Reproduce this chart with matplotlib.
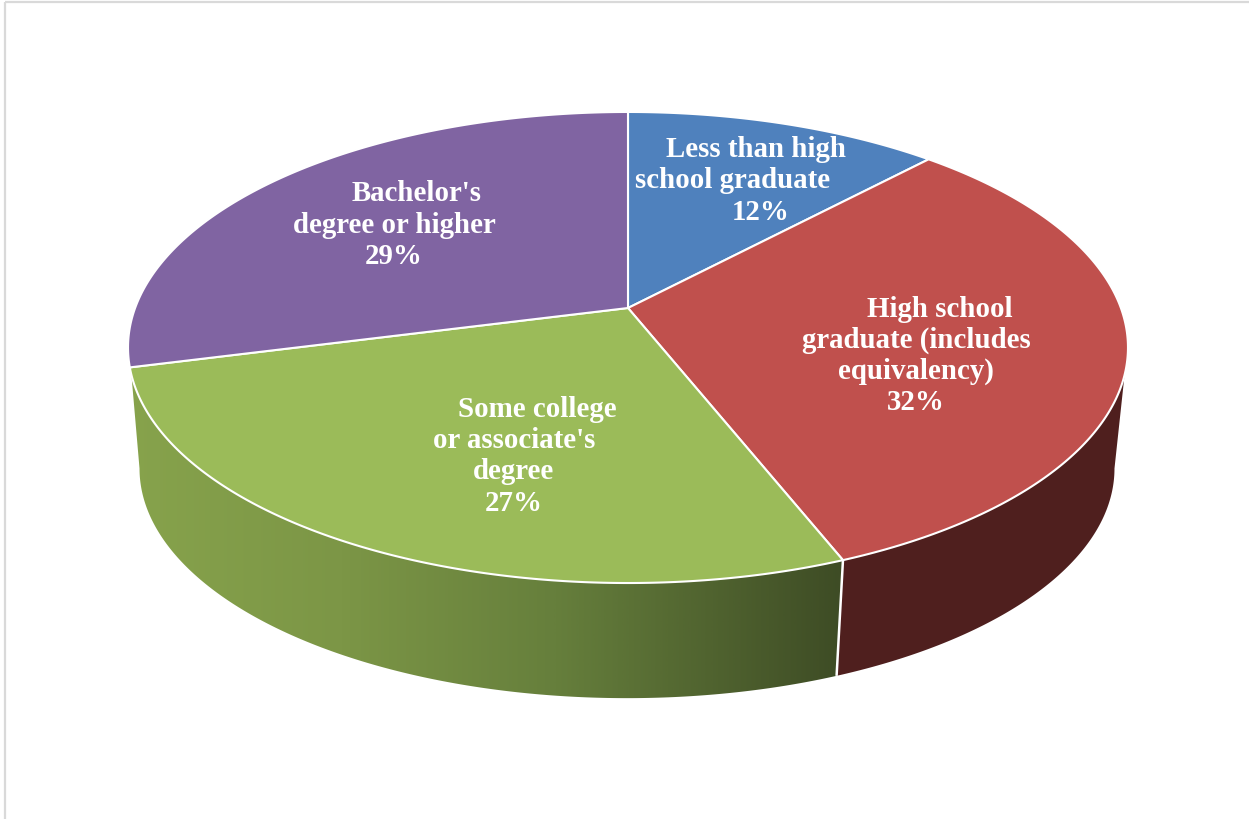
import matplotlib
matplotlib.use("Agg")
import matplotlib.pyplot as plt
import numpy as np
from matplotlib.colors import LinearSegmentedColormap
from matplotlib.patches import PathPatch, Polygon
from matplotlib.path import Path

categories = [
    "Less than high\nschool graduate",
    "High school\ngraduate (includes\nequivalency)",
    "Some college\nor associate's\ndegree",
    "Bachelor's\ndegree or higher",
]
values = [12, 32, 27, 29]
slice_colors = ["#4f81bd", "#c0504d", "#9bbb59", "#8064a2"]

# per-line label centre x and baseline y, one list per slice
label_x = [
    [756, 733, 761],
    [940, 916, 916, 916],
    [537, 514, 514, 514],
    [417, 394, 394],
]
label_y = [
    [157, 188, 220],
    [317, 348, 379, 410],
    [417, 448, 479, 511],
    [201, 233, 264],
]

# perspective disc, everything in pixels
CX, CY = 628, 308
A, B, K = 492.9, 228.9, 0.1677
DROP, SHRINK = 122, 0.975


def project(theta_deg, bottom=False):
    t = np.radians(theta_deg)
    u, v = np.sin(t), np.cos(t)
    w = 1 + K * v
    x, y = A * u / w, -B * v / w
    if bottom:
        return CX - 1 + x * SHRINK, CY + DROP + y * SHRINK
    return CX + x, CY + y


def arc(t0, t1, bottom=False):
    x, y = project(np.linspace(t0, t1, 200), bottom)
    return np.column_stack([x, y])


def side_polygon(top_start, top_end, bot_start, bot_end):
    return np.vstack([arc(top_start, top_end), arc(bot_start, bot_end, True)])


fig = plt.figure(figsize=(12.49, 8.19), dpi=100)
ax = fig.add_axes([0, 0, 1, 1])
ax.axis("off")

# thin chart frame, only top and left show
ax.plot([5.5, 5.5], [819, 1.5], color="#d9d9d9", lw=1.6, solid_capstyle="butt")
ax.plot([5.5, 1249], [1.5, 1.5], color="#d9d9d9", lw=1.6, solid_capstyle="butt")

edges = np.concatenate([[0], np.cumsum(values)]) / sum(values) * 360

# side walls: red is flat, green fades left to right
red_side = side_polygon(106.2, edges[2], edges[2], 99.65)
ax.add_patch(Polygon(red_side, closed=True, fc="#4f1f1e", ec="none"))

green_side = side_polygon(edges[2], 253.8, 260.35, edges[2])
cmap = LinearSegmentedColormap.from_list(
    "green_wall", [(0, "#87a34c"), (0.3, "#7c9646"), (0.6, "#667f3c"), (1, "#3e4c25")]
)
grad = np.linspace(0, 1, 700).reshape(1, -1)
im = ax.imshow(grad, cmap=cmap, extent=[126, 842, 700, 360], aspect="auto", zorder=2)
im.set_clip_path(Polygon(green_side, closed=True, transform=ax.transData))
ax.set_xlim(0, 1249)
ax.set_ylim(819, 0)

# separator between the two walls
sep = np.array([project(edges[2]), project(edges[2], True)])
ax.plot(sep[:, 0], sep[:, 1], color="white", lw=1.8, zorder=3, solid_capstyle="butt")

# top face
for i, color in enumerate(slice_colors):
    pts = np.vstack([[CX, CY], arc(edges[i], edges[i + 1])])
    codes = [Path.MOVETO] + [Path.LINETO] * (len(pts) - 1) + [Path.CLOSEPOLY]
    path = Path(np.vstack([pts, pts[0]]), codes)
    ax.add_patch(PathPatch(path, fc=color, ec="white", lw=1.5, joinstyle="round", zorder=4))

for i, cat in enumerate(categories):
    lines = cat.split("\n") + [f"{values[i]}%"]
    for line, x, y in zip(lines, label_x[i], label_y[i]):
        ax.text(x, y, line, color="white", fontsize=20.8, fontweight="bold",
                family="Liberation Serif", ha="center", va="baseline", zorder=5)

fig.savefig("out.png", dpi=100)
